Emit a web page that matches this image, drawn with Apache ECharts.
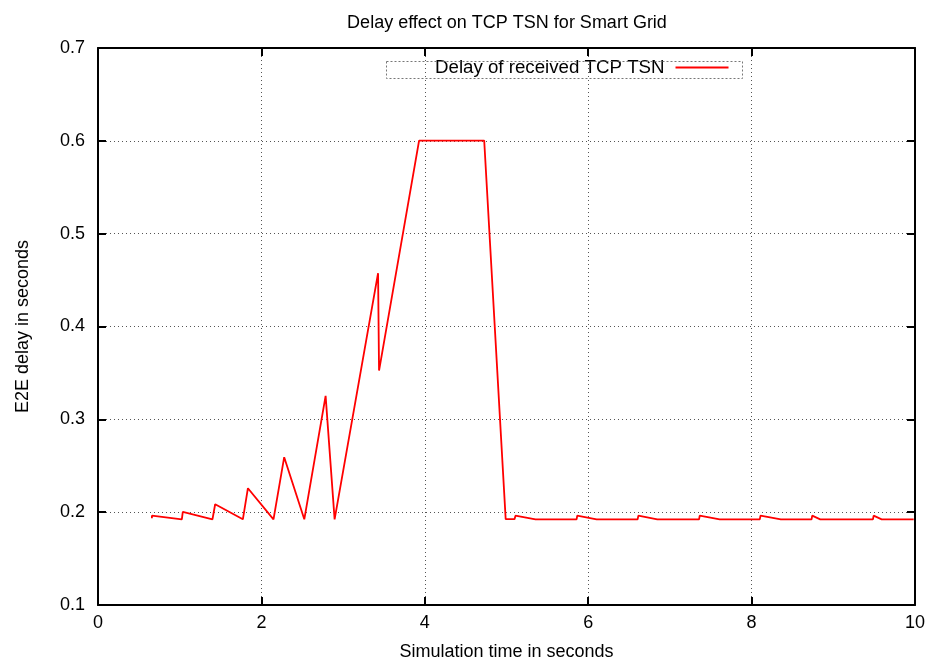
<!DOCTYPE html>
<html>
<head>
<meta charset="utf-8">
<script src="https://cdn.jsdelivr.net/npm/echarts@6/dist/echarts.min.js"></script>
<style>html,body{margin:0;padding:0;background:#fff}#c{width:936px;height:666px}</style>
</head>
<body>
<div id="c"></div>
<script>
const titleText = "Delay effect on TCP TSN for Smart Grid";
const seriesName = "Delay of received TCP TSN";
const xAxisName = "Simulation time in seconds";
const yAxisName = "E2E delay in seconds";

const time = [0.66, 0.66, 1.026, 1.038, 1.401, 1.434, 1.773, 1.835, 2.148, 2.279, 2.525, 2.786, 2.896,
  3.428, 3.44, 3.93, 4.727, 4.99, 5.098, 5.11, 5.355, 5.858, 5.866, 6.103, 6.605, 6.614, 6.846,
  7.357, 7.365, 7.61, 8.10, 8.109, 8.358, 8.734, 8.742, 8.84, 9.485, 9.494, 9.592, 9.984];
const delay = [0.1934, 0.1962, 0.1923, 0.2002, 0.1923, 0.2085, 0.1923, 0.2258, 0.1923, 0.2592, 0.1923, 0.3252, 0.1923,
  0.4574, 0.3525, 0.6003, 0.6003, 0.1925, 0.1925, 0.1962, 0.1923, 0.1923, 0.1962, 0.1923, 0.1923, 0.1962, 0.1923,
  0.1923, 0.1962, 0.1923, 0.1923, 0.1962, 0.1923, 0.1923, 0.1962, 0.1923, 0.1923, 0.1962, 0.1923, 0.1923];

const xTicks = [0, 2, 4, 6, 8, 10];
const yTicks = [0.1, 0.2, 0.3, 0.4, 0.5, 0.6, 0.7];

const font = "'Liberation Sans', Arial, sans-serif";
const fs = 18;
const chart = echarts.init(document.getElementById('c'), null, {renderer: 'canvas'});

const commonSplit = {show: true, lineStyle: {color: '#555', type: [1, 3], width: 1}};
const tickStyle = {show: true, inside: true, length: 8, lineStyle: {color: '#000', width: 2}};
const lineStyle = {show: true, onZero: false, lineStyle: {color: '#000', width: 2}};

chart.setOption({
  animation: false,
  backgroundColor: '#fff',
  title: {
    text: titleText, left: 502, top: 9, textAlign: 'center',
    textStyle: {fontFamily: font, fontSize: fs, fontWeight: 'normal', color: '#000'}
  },
  legend: {
    data: [{name: seriesName, icon: 'rect'}],
    left: 430, top: 53, align: 'right',
    itemWidth: 53, itemHeight: 2, itemGap: 10,
    textStyle: {fontFamily: font, fontSize: 18.7, color: '#000', padding: [0, 6, 0, 0]}
  },
  graphic: [{
    type: 'rect', left: 384, top: 59, z: 100,
    shape: {width: 356, height: 17},
    style: {fill: 'none', stroke: '#777', lineWidth: 1, lineDash: [2, 2]}
  }],
  grid: {left: 98, right: 21, top: 48, bottom: 61, show: false},
  xAxis: [{
    type: 'value', min: xTicks[0], max: xTicks[xTicks.length - 1], interval: 2,
    name: xAxisName, nameLocation: 'middle', nameGap: 38,
    nameTextStyle: {fontFamily: font, fontSize: fs, color: '#000'},
    axisLine: lineStyle, axisTick: tickStyle,
    axisLabel: {fontFamily: font, fontSize: fs, color: '#000', margin: 9},
    splitLine: commonSplit
  }, {
    type: 'value', position: 'top', min: 0, max: 10, interval: 2,
    axisLine: lineStyle, axisTick: tickStyle, axisLabel: {show: false}, splitLine: {show: false}
  }],
  yAxis: [{
    type: 'value', min: yTicks[0], max: yTicks[yTicks.length - 1], interval: 0.1,
    name: yAxisName, nameLocation: 'middle', nameGap: 66,
    nameTextStyle: {fontFamily: font, fontSize: fs, color: '#000'},
    axisLine: lineStyle, axisTick: tickStyle,
    axisLabel: {fontFamily: font, fontSize: fs, color: '#000', margin: 13, formatter: v => v.toFixed(1)},
    splitLine: commonSplit
  }, {
    type: 'value', position: 'right', min: 0.1, max: 0.7, interval: 0.1,
    axisLine: lineStyle, axisTick: tickStyle, axisLabel: {show: false}, splitLine: {show: false}
  }],
  series: [{
    name: seriesName, type: 'line', symbol: 'none',
    data: time.map((t, i) => [t, delay[i]]),
    lineStyle: {color: '#ff0000', width: 1.8},
    itemStyle: {color: '#ff0000'},
    z: 5
  }]
});
</script>
</body>
</html>
